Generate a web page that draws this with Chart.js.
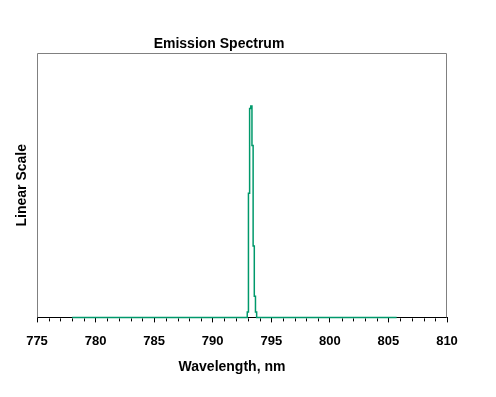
<!DOCTYPE html>
<html lang="en">
<head>
    <meta charset="UTF-8">
    <title>Emission Spectrum</title>
    <script src="https://cdn.jsdelivr.net/npm/chart.js"></script>
    <style>
        body {
            margin: 0;
            padding: 0;
            background: #fff;
        }
        .chart-box {
            position: relative;
            width: 496px;
            height: 397px;
        }
    </style>
</head>
<body>
    <div class="chart-box">
        <canvas id="spectrumChart"></canvas>
    </div>

    <script>
        // Emission spectrum
        const wavelengths = [778, 792.9, 793.0, 793.1, 793.2, 793.3, 793.4, 793.5, 793.6, 793.7, 793.8, 805.7];
        const intensity   = [0, 0, 0.02, 0.47, 0.79, 0.80, 0.65, 0.27, 0.08, 0.02, 0, 0];

        const chartTitle = 'Emission Spectrum';
        const xTitle = 'Wavelength, nm';
        const yTitle = 'Linear Scale';
        const xMin = 775, xMax = 810, xMajorStep = 5, xMinorStep = 1;

        const titleFont = 'bold 14px Arial, "Liberation Sans", sans-serif';

        // frame, minor ticks and titles
        const decorations = {
            id: 'decorations',
            beforeDatasetsDraw(chart) {
                const { ctx, chartArea: a } = chart;
                const xs = chart.scales.x;
                ctx.save();
                ctx.strokeStyle = '#808080';
                ctx.lineWidth = 1;
                ctx.beginPath();
                ctx.moveTo(a.left + 0.5, a.bottom);
                ctx.lineTo(a.left + 0.5, a.top + 0.5);
                ctx.lineTo(a.right - 0.5, a.top + 0.5);
                ctx.lineTo(a.right - 0.5, a.bottom);
                ctx.stroke();

                // minor ticks every 1 nm
                ctx.strokeStyle = '#000';
                ctx.beginPath();
                for (let v = xMin; v <= xMax; v += xMinorStep) {
                    if ((v - xMin) % xMajorStep === 0) continue;
                    const px = Math.round(xs.getPixelForValue(v)) + 0.5;
                    ctx.moveTo(px, a.bottom + 1);
                    ctx.lineTo(px, a.bottom + 4);
                }
                ctx.stroke();
                ctx.restore();
            },
            afterDraw(chart) {
                const { ctx, chartArea: a } = chart;
                ctx.save();
                ctx.fillStyle = '#000';
                ctx.font = titleFont;
                ctx.textAlign = 'center';
                ctx.textBaseline = 'middle';
                ctx.fillText(chartTitle, (a.left + a.right) / 2 - 23, 44);
                ctx.fillText(xTitle, (a.left + a.right) / 2 - 10, 367);

                ctx.translate(22, (a.top + a.bottom) / 2);
                ctx.rotate(-Math.PI / 2);
                ctx.fillText(yTitle, 0, 0);
                ctx.restore();
            }
        };

        new Chart(document.getElementById('spectrumChart'), {
            type: 'line',
            data: {
                datasets: [{
                    label: 'Emission',
                    data: wavelengths.map((w, i) => ({ x: w, y: intensity[i] })),
                    borderColor: '#00996b',
                    borderWidth: 1.5,
                    pointRadius: 0,
                    stepped: 'middle',
                    fill: false,
                    clip: 3
                }]
            },
            options: {
                responsive: true,
                maintainAspectRatio: false,
                animation: false,
                layout: {
                    padding: { left: 37, top: 53, right: 49, bottom: 37 }
                },
                plugins: {
                    legend: { display: false },
                    title: { display: false },
                    tooltip: { enabled: false }
                },
                scales: {
                    x: {
                        type: 'linear',
                        min: xMin,
                        max: xMax,
                        ticks: {
                            stepSize: xMajorStep,
                            color: '#000',
                            font: { family: 'Arial, "Liberation Sans", sans-serif', size: 13, weight: 'bold' },
                            padding: 11,
                            maxRotation: 0
                        },
                        grid: {
                            drawOnChartArea: false,
                            drawTicks: true,
                            tickLength: 5,
                            color: '#000'
                        },
                        border: { color: '#000', width: 1 }
                    },
                    y: {
                        display: false,
                        min: 0,
                        max: 1
                    }
                }
            },
            plugins: [decorations]
        });
    </script>
</body>
</html>
